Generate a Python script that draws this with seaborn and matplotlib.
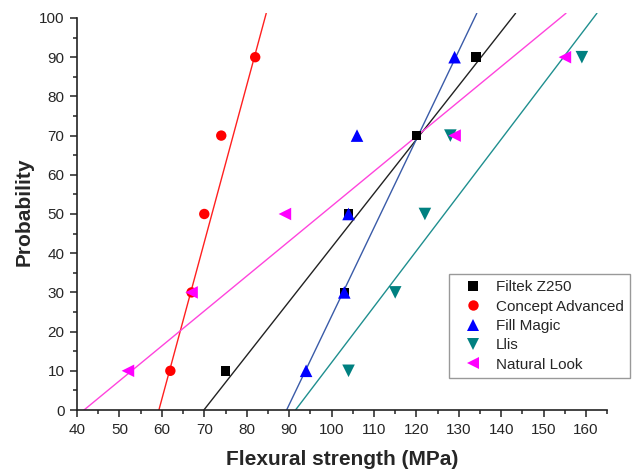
import numpy as np
import pandas as pd
import matplotlib
matplotlib.use("Agg")
import matplotlib.pyplot as plt
import seaborn as sns

# Weibull-style probability vs flexural strength
materials = ["Filtek Z250", "Concept Advanced", "Fill Magic", "Llis", "Natural Look"]
probability = [10, 30, 50, 70, 90]
filtek_z250 = [75, 103, 104, 120, 134]
concept_advanced = [62, 67, 70, 74, 82]
fill_magic = [94, 103, 104, 106, 129]
llis = [104, 115, 122, 128, 159]
natural_look = [52, 67, 89, 129, 155]

# fitted lines: strength at probability 0 and at probability 100
fit_x_at_0 = [69.9, 59.3, 89.4, 91.5, 41.65]
fit_x_at_100 = [142.5, 84.3, 133.7, 161.7, 153.9]

marker_colors = ["#000000", "#FF0000", "#0000FF", "#008080", "#FF00FF"]
line_colors = ["#222222", "#FF2020", "#3A5BA8", "#1F8F8F", "#FF44DD"]
marker_shapes = ["s", "o", "^", "v", "<"]
marker_areas = [46, 56, 82, 82, 82]

sns.set_style("ticks")
plt.rcParams["font.family"] = ["Liberation Sans", "DejaVu Sans"]

strengths = [filtek_z250, concept_advanced, fill_magic, llis, natural_look]
df = pd.DataFrame({
    "Material": np.repeat(materials, len(probability)),
    "Strength": np.concatenate(strengths),
    "Probability": probability * len(materials),
})

fig = plt.figure(figsize=(6.36, 4.71), dpi=100)
ax = fig.add_axes([0.1211, 0.1295, 0.8338, 0.8423])

y_top = 101.2
# fitted lines first so the markers sit on top
for i, name in enumerate(materials):
    slope = (fit_x_at_100[i] - fit_x_at_0[i]) / 100.0
    yy = np.array([0.0, y_top])
    xx = fit_x_at_0[i] + slope * yy
    ax.plot(xx, yy, color=line_colors[i], lw=1.0, zorder=1)

sns.scatterplot(data=df, x="Strength", y="Probability",
                hue="Material", style="Material", size="Material",
                hue_order=materials, style_order=materials, size_order=materials,
                palette=dict(zip(materials, marker_colors)),
                markers=dict(zip(materials, marker_shapes)),
                sizes=dict(zip(materials, marker_areas)),
                linewidth=0, zorder=3, ax=ax)

ax.set_xlim(40, 165)
ax.set_ylim(0, y_top)
ax.spines["left"].set_bounds(0, 100)
ax.spines["bottom"].set_bounds(40, 165)
for side in ["top", "right"]:
    ax.spines[side].set_visible(False)
for side in ["left", "bottom"]:
    ax.spines[side].set_linewidth(1.2)
    ax.spines[side].set_color("#222222")

ax.set_xticks(np.arange(40, 161, 10))
ax.set_yticks(np.arange(0, 101, 10))
ax.set_xticks(np.arange(45, 166, 10), minor=True)
ax.set_yticks(np.arange(5, 100, 10), minor=True)
ax.tick_params(which="major", direction="out", length=5, width=1.1, labelsize=11, pad=4, color="#222222")
ax.tick_params(which="minor", direction="out", length=3, width=1.1, color="#222222")

ax.set_xlabel("Flexural strength (MPa)", fontsize=15, fontweight="bold", labelpad=10)
ax.set_ylabel("Probability", fontsize=15, fontweight="bold", labelpad=4)

handles, labels = ax.get_legend_handles_labels()
leg = ax.legend(handles, labels, loc="upper left", bbox_to_anchor=(0.706, 0.418),
                bbox_transform=fig.transFigure, borderaxespad=0, fontsize=11,
                frameon=True, fancybox=False, handlelength=2.3, handletextpad=0.35,
                labelspacing=0.35, borderpad=0.4)
leg.get_frame().set_edgecolor("#808080")
leg.get_frame().set_linewidth(1.0)

fig.savefig("out.png", dpi=100)
